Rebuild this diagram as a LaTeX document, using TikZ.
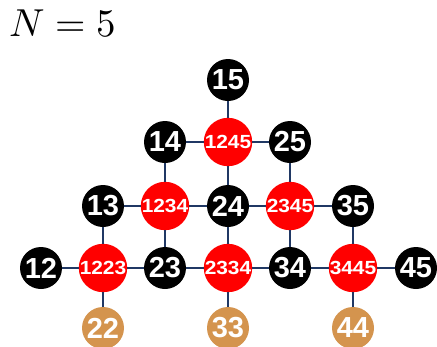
\documentclass[tikz,border=0pt]{standalone}
\usepackage{fontspec}
\usepackage{unicode-math}
\setmathfont{Latin Modern Math}
\setsansfont{Liberation Sans}
\newfontfamily\widenum[FakeStretch=1.1]{Liberation Sans}
\definecolor{edgeblue}{RGB}{32,56,100}
\definecolor{tan}{RGB}{212,148,78}
\definecolor{pred}{RGB}{255,0,0}
\tikzset{
  base/.style={circle, minimum size=42pt, inner sep=0pt, text=white},
  blk/.style={base, fill=black, font=\sffamily\bfseries\fontsize{29}{29}\selectfont},
  rednode/.style={base, fill=pred, font=\widenum\bfseries\fontsize{19}{19}\selectfont},
  tannode/.style={base, fill=tan, font=\sffamily\bfseries\fontsize{29}{29}\selectfont},
  link/.style={draw=edgeblue, line width=1.2pt}
}
\begin{document}
\begin{tikzpicture}[x=1pt,y=-1pt]
\useasboundingbox (0,0) rectangle (437,346);
\node[anchor=base west, inner sep=0pt, font=\fontsize{39}{39}\selectfont] (title) at (9,36) {$N=5$};
% row 1
\node[blk] (n15) at (228,80) {15};
% row 2
\node[blk] (n14) at (165,142) {14};
\node[rednode] (n1245) at (228,142) {1245};
\node[blk] (n25) at (290,142) {25};
% row 3
\node[blk] (n13) at (103,206) {13};
\node[rednode] (n1234) at (165,206) {1234};
\node[blk] (n24) at (228,206) {24};
\node[rednode] (n2345) at (290,206) {2345};
\node[blk] (n35) at (353,206) {35};
% row 4
\node[blk] (n12) at (41,268) {12};
\node[rednode] (n1223) at (103,268) {1223};
\node[blk] (n23) at (165,268) {23};
\node[rednode] (n2334) at (228,268) {2334};
\node[blk] (n34) at (290,268) {34};
\node[rednode] (n3445) at (353,268) {3445};
\node[blk] (n45) at (416,268) {45};
% row 5
\node[tannode] (n22) at (103,328) {22};
\node[tannode] (n33) at (228,328) {33};
\node[tannode] (n44) at (353,328) {44};
% edges
\path[link] (n15) -- (n1245);
\path[link] (n14) -- (n1245) (n1245) -- (n25);
\path[link] (n14) -- (n1234) (n1245) -- (n24) (n25) -- (n2345);
\path[link] (n13) -- (n1234) (n1234) -- (n24) (n24) -- (n2345) (n2345) -- (n35);
\path[link] (n13) -- (n1223) (n1234) -- (n23) (n24) -- (n2334) (n2345) -- (n34) (n35) -- (n3445);
\path[link] (n12) -- (n1223) (n1223) -- (n23) (n23) -- (n2334) (n2334) -- (n34) (n34) -- (n3445) (n3445) -- (n45);
\path[link] (n1223) -- (n22) (n2334) -- (n33) (n3445) -- (n44);
\end{tikzpicture}
\end{document}
